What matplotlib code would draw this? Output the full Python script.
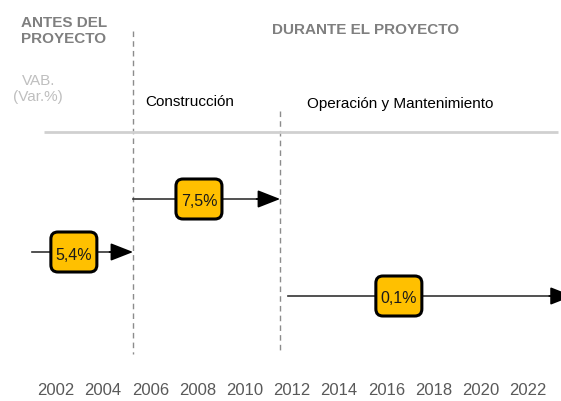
import matplotlib.pyplot as plt
from matplotlib.patches import FancyBboxPatch

plt.rcParams['font.family'] = ['Liberation Sans', 'DejaVu Sans']

# fases y tasas (Var.% del VAB)
years = [2002, 2004, 2006, 2008, 2010, 2012, 2014, 2016, 2018, 2020, 2022]
labels = ['5,4%', '7,5%', '0,1%']
seg_start = [2001.0, 2005.27, 2011.85]
seg_end = [2005.27, 2011.5, 2023.9]
seg_y = [253, 200, 297]          # posición vertical en el esquema
box_x = [2002.76, 2008.06, 2016.53]
divisions = [2005.27, 2011.5]
div_top = [32, 112]

fig = plt.figure(figsize=(5.61, 4.02), dpi=100)
ax = fig.add_axes([0, 0, 1, 1])
ax.set_xlim(1999.63, 2023.4)
ax.set_ylim(402, 0)
ax.axis('off')

gray = '#7f7f7f'
px_per_year = 561 / (2023.4 - 1999.63)

# lineas divisorias
for x, top in zip(divisions, div_top):
    ax.plot([x, x], [top, 355], color='#8c8c8c', lw=1, ls=(0, (4, 3)))

ax.plot([2001.5, 2023.28], [133, 133], color='#d0d0d0', lw=2, solid_capstyle='butt')

# flechas con cajas
bw = 46 / px_per_year
bh = 40
for x0, x1, y, bx, lab in zip(seg_start, seg_end, seg_y, box_x, labels):
    ax.plot([x0, x1 - 0.5], [y, y], color='#333333', lw=1.2)
    ax.annotate('', xy=(x1, y), xytext=(x1 - 1.0, y), annotation_clip=False,
                arrowprops=dict(arrowstyle='-|>,head_length=1.4,head_width=0.55',
                                color='black', lw=1.2, shrinkA=0, shrinkB=0))
    box = FancyBboxPatch((bx - bw / 2, y - bh / 2), bw, bh,
                         boxstyle='round,pad=0,rounding_size=0.3',
                         mutation_aspect=px_per_year,
                         fc='#ffc000', ec='black', lw=2.2, zorder=3)
    ax.add_patch(box)
    ax.text(bx, y + 2, lab, ha='center', va='center', fontsize=11.5,
            color='#1a1a1a', zorder=4)

# textos
ax.text(2000.5, 31, 'ANTES DEL\nPROYECTO', ha='left', va='center', fontsize=11,
        fontweight='bold', color=gray, linespacing=1.2)
ax.text(2015.12, 30, 'DURANTE EL PROYECTO', ha='center', va='center', fontsize=11,
        fontweight='bold', color=gray)
ax.text(2001.25, 89, 'VAB.\n(Var.%)', ha='center', va='center', fontsize=11,
        color='#bfbfbf', linespacing=1.2)
ax.text(2005.8, 102, 'Construcción', ha='left', va='center', fontsize=11, color='black')
ax.text(2012.64, 104, 'Operación y Mantenimiento', ha='left', va='center',
        fontsize=11, color='black')

for yr in years:
    ax.text(yr, 391, str(yr), ha='center', va='center', fontsize=12, color='#595959')

fig.savefig('out.png', dpi=100)
